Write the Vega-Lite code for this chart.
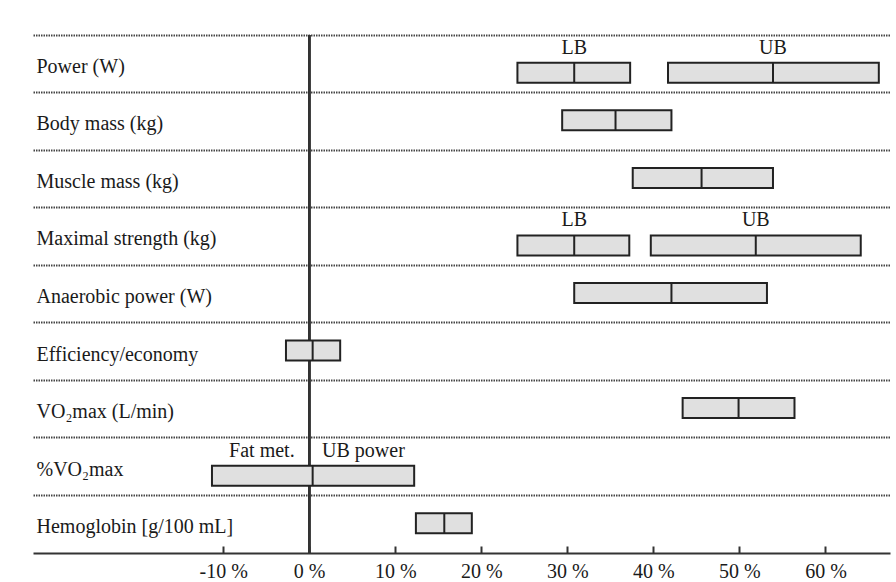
{
  "$schema": "https://vega.github.io/schema/vega-lite/v6.json",
  "width": 857,
  "height": 518,
  "autosize": {"type": "none"},
  "padding": {"left": 33, "top": 35, "right": 6, "bottom": 29},
  "background": "white",
  "config": {
    "view": {"stroke": null},
    "font": "Liberation Serif",
    "axis": {"labelFont": "Liberation Serif", "labelColor": "#1a1a1a"}
  },
  "datasets": {
    "bars": [
      {"measure": "Power (W)", "group": "LB", "lo": 24.2, "hi": 37.3, "mid": 30.8},
      {"measure": "Power (W)", "group": "UB", "lo": 41.7, "hi": 66.2, "mid": 53.9},
      {"measure": "Body mass (kg)", "group": "", "lo": 29.4, "hi": 42.1, "mid": 35.6},
      {"measure": "Muscle mass (kg)", "group": "", "lo": 37.6, "hi": 53.9, "mid": 45.6},
      {"measure": "Maximal strength (kg)", "group": "LB", "lo": 24.2, "hi": 37.2, "mid": 30.8},
      {"measure": "Maximal strength (kg)", "group": "UB", "lo": 39.7, "hi": 64.1, "mid": 51.9},
      {"measure": "Anaerobic power (W)", "group": "", "lo": 30.8, "hi": 53.2, "mid": 42.1},
      {"measure": "Efficiency/economy", "group": "", "lo": -2.7, "hi": 3.6, "mid": 0.4},
      {"measure": "VO₂max (L/min)", "group": "", "lo": 43.4, "hi": 56.4, "mid": 49.9},
      {"measure": "%VO₂max", "group": "", "lo": -11.3, "hi": 12.2, "mid": 0.4},
      {"measure": "Hemoglobin [g/100 mL]", "group": "", "lo": 12.4, "hi": 18.9, "mid": 15.7}
    ],
    "notes": [
      {"measure": "Power (W)", "note": "LB", "x": 30.8},
      {"measure": "Power (W)", "note": "UB", "x": 53.9},
      {"measure": "Maximal strength (kg)", "note": "LB", "x": 30.8},
      {"measure": "Maximal strength (kg)", "note": "UB", "x": 51.9},
      {"measure": "%VO₂max", "note": "Fat met.", "x": -5.5},
      {"measure": "%VO₂max", "note": "UB power", "x": 6.3}
    ]
  },
  "data": {"name": "bars"},
  "encoding": {
    "y": {
      "field": "measure",
      "type": "nominal",
      "sort": null,
      "scale": {
        "domain": ["Power (W)", "Body mass (kg)", "Muscle mass (kg)", "Maximal strength (kg)", "Anaerobic power (W)", "Efficiency/economy", "VO₂max (L/min)", "%VO₂max", "Hemoglobin [g/100 mL]"],
        "paddingInner": 0,
        "paddingOuter": 0
      },
      "axis": {
        "title": null,
        "domain": false,
        "ticks": false,
        "labelAlign": "left",
        "labelPadding": -3,
        "labelOffset": 3,
        "labelFontSize": 20,
        "labelLimit": 400,
        "labelColor": "#1a1a1a",
        "grid": true,
        "bandPosition": 0,
        "gridDash": [1.5, 1],
        "gridColor": "#444",
        "gridWidth": 2
      }
    }
  },
  "layer": [
    {
      "mark": {"type": "rule", "color": "#333", "strokeWidth": 2},
      "encoding": {"x": {"datum": 0, "type": "quantitative"}, "y": null}
    },
    {
      "mark": {"type": "bar", "height": 20, "fill": "#e0e0e0", "stroke": "#222", "strokeWidth": 2, "yOffset": {"expr": "datum.measure === 'Power (W)' || datum.measure === 'Maximal strength (kg)' || datum.measure === '%VO₂max' ? 9 : -1"}},
      "encoding": {
        "x": {
          "field": "lo",
          "type": "quantitative",
          "scale": {"domain": [-32.1, 67.5], "nice": false, "zero": false},
          "axis": {
            "title": null,
            "values": [-10, 0, 10, 20, 30, 40, 50, 60],
            "labelExpr": "datum.value + ' %'",
            "labelFontSize": 20,
            "labelColor": "#1a1a1a",
            "domainColor": "#333",
            "domainWidth": 2,
            "tickColor": "#333",
            "tickWidth": 2,
            "tickSize": -7,
            "labelPadding": 15,
            "grid": false
          }
        },
        "x2": {"field": "hi"}
      }
    },
    {
      "mark": {"type": "tick", "orient": "vertical", "size": 20, "thickness": 2, "color": "#222", "opacity": 1, "yOffset": {"expr": "datum.measure === 'Power (W)' || datum.measure === 'Maximal strength (kg)' || datum.measure === '%VO₂max' ? 9 : -1"}},
      "encoding": {"x": {"field": "mid", "type": "quantitative"}}
    },
    {
      "data": {"name": "notes"},
      "mark": {"type": "text", "fontSize": 20, "color": "#1a1a1a", "baseline": "middle", "yOffset": -16},
      "encoding": {
        "x": {"field": "x", "type": "quantitative"},
        "text": {"field": "note"}
      }
    }
  ]
}
